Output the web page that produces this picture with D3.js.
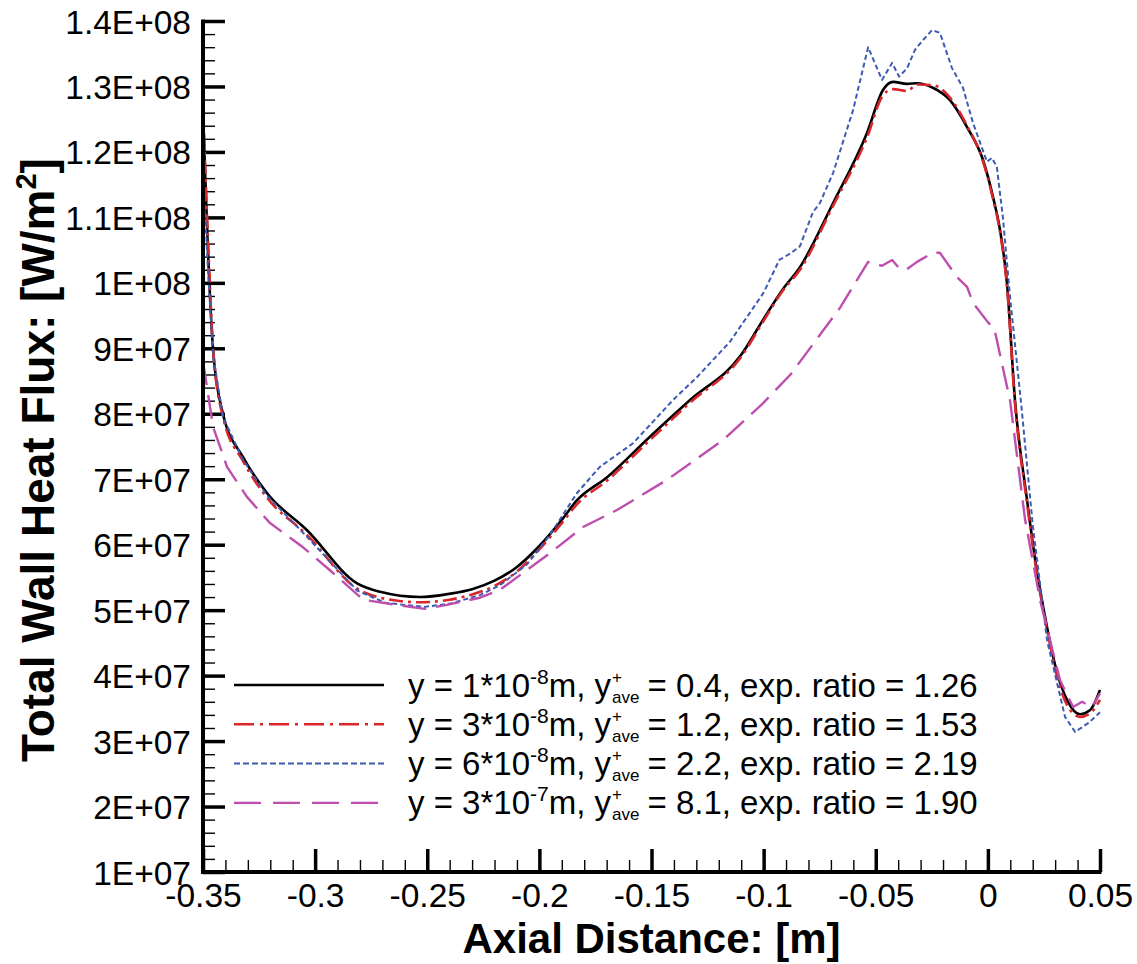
<!DOCTYPE html>
<html>
<head>
<meta charset="utf-8">
<script src="https://cdn.jsdelivr.net/npm/d3@7"></script>
<style>
  html, body { margin: 0; padding: 0; background: #fff; }
  svg { display: block; }
  text { font-family: "Liberation Sans", Arial, sans-serif; fill: #000; }
</style>
</head>
<body>
<div id="chart"></div>
<script>
// Axis ticks
const xTicks = [-0.35, -0.3, -0.25, -0.2, -0.15, -0.1, -0.05, 0, 0.05];
const xTickLabels = ["-0.35", "-0.3", "-0.25", "-0.2", "-0.15", "-0.1", "-0.05", "0", "0.05"];
const yTicks = [1e7, 2e7, 3e7, 4e7, 5e7, 6e7, 7e7, 8e7, 9e7, 1e8, 1.1e8, 1.2e8, 1.3e8, 1.4e8];
const yTickLabels = ["1E+07", "2E+07", "3E+07", "4E+07", "5E+07", "6E+07", "7E+07", "8E+07", "9E+07",
                     "1E+08", "1.1E+08", "1.2E+08", "1.3E+08", "1.4E+08"];

// Series: [axial distance (m), total wall heat flux (W/m2)]
const flux1e8 = [
  [-0.35, 1.26e8], [-0.3478, 1.05e8], [-0.3455, 8.97e7], [-0.3411, 8.0e7], [-0.3322, 7.34e7],
  [-0.3215, 6.79e7], [-0.3036, 6.22e7], [-0.2813, 5.41e7], [-0.271, 5.28e7], [-0.2532, 5.2e7],
  [-0.24, 5.25e7], [-0.23, 5.32e7], [-0.22, 5.45e7], [-0.21, 5.66e7], [-0.2, 5.98e7],
  [-0.19, 6.38e7], [-0.1832, 6.68e7], [-0.1698, 7.03e7], [-0.1507, 7.65e7], [-0.1328, 8.21e7],
  [-0.11, 8.9e7], [-0.1, 9.45e7], [-0.0915, 9.9e7], [-0.0838, 1.024e8], [-0.069, 1.122e8],
  [-0.0539, 1.229e8], [-0.0467, 1.295e8], [-0.0423, 1.307e8], [-0.036, 1.304e8], [-0.0316, 1.305e8],
  [-0.0245, 1.298e8], [-0.0169, 1.279e8], [-0.0093, 1.238e8], [-0.0022, 1.188e8], [0.0023, 1.131e8],
  [0.0054, 1.081e8], [0.0085, 1.0e8], [0.0121, 8.2e7], [0.0174, 6.7e7], [0.0211, 5.77e7],
  [0.0264, 4.74e7], [0.0309, 4.04e7], [0.0353, 3.63e7], [0.0411, 3.41e7], [0.0455, 3.47e7],
  [0.05, 3.78e7]
];
const flux3e8 = [
  [-0.35, 1.27e8], [-0.3478, 1.07e8], [-0.3455, 9.0e7], [-0.3411, 7.95e7], [-0.3322, 7.28e7],
  [-0.3215, 6.72e7], [-0.3036, 6.15e7], [-0.2813, 5.33e7], [-0.271, 5.19e7], [-0.2532, 5.12e7],
  [-0.24, 5.16e7], [-0.23, 5.24e7], [-0.22, 5.37e7], [-0.21, 5.59e7], [-0.2, 5.93e7],
  [-0.19, 6.33e7], [-0.1832, 6.62e7], [-0.1698, 6.98e7], [-0.1507, 7.6e7], [-0.1328, 8.17e7],
  [-0.11, 8.87e7], [-0.1, 9.42e7], [-0.0915, 9.88e7], [-0.0838, 1.02e8], [-0.069, 1.118e8],
  [-0.0539, 1.222e8], [-0.0467, 1.287e8], [-0.0423, 1.296e8], [-0.036, 1.293e8], [-0.0316, 1.303e8],
  [-0.0245, 1.302e8], [-0.0169, 1.283e8], [-0.0093, 1.24e8], [-0.0022, 1.186e8], [0.0023, 1.128e8],
  [0.0054, 1.078e8], [0.0085, 9.95e7], [0.0121, 8.15e7], [0.0174, 6.65e7], [0.0211, 5.72e7],
  [0.0264, 4.7e7], [0.0309, 3.98e7], [0.0353, 3.55e7], [0.0411, 3.37e7], [0.0455, 3.42e7],
  [0.05, 3.63e7]
];
const flux6e8 = [
  [-0.35, 1.18e8], [-0.3478, 1.02e8], [-0.3455, 8.9e7], [-0.3411, 7.95e7], [-0.3322, 7.3e7],
  [-0.3215, 6.75e7], [-0.3036, 6.12e7], [-0.2813, 5.3e7], [-0.2685, 5.11e7], [-0.251, 5.05e7],
  [-0.2398, 5.1e7], [-0.2265, 5.23e7], [-0.2176, 5.38e7], [-0.2055, 5.7e7], [-0.1953, 6.15e7],
  [-0.1832, 6.79e7], [-0.173, 7.19e7], [-0.1582, 7.55e7], [-0.1404, 8.21e7], [-0.13, 8.55e7],
  [-0.115, 9.1e7], [-0.1, 9.85e7], [-0.093, 1.035e8], [-0.088, 1.045e8], [-0.0838, 1.056e8],
  [-0.078, 1.108e8], [-0.0749, 1.122e8], [-0.069, 1.168e8], [-0.0601, 1.264e8], [-0.0534, 1.36e8],
  [-0.0472, 1.31e8], [-0.0427, 1.336e8], [-0.0396, 1.315e8], [-0.036, 1.328e8], [-0.0325, 1.356e8],
  [-0.0289, 1.371e8], [-0.0249, 1.386e8], [-0.0214, 1.382e8], [-0.016, 1.328e8], [-0.0111, 1.298e8],
  [-0.0066, 1.244e8], [-0.0004, 1.185e8], [0.0018, 1.191e8], [0.004, 1.177e8], [0.0067, 1.10e8],
  [0.0099, 9.78e7], [0.015, 8.1e7], [0.02, 6.3e7], [0.0264, 4.54e7], [0.0344, 3.37e7],
  [0.0389, 3.14e7], [0.045, 3.28e7], [0.05, 3.44e7]
];
const flux3e7 = [
  [-0.35, 8.8e7], [-0.3455, 7.8e7], [-0.3393, 7.19e7], [-0.3304, 6.73e7], [-0.3201, 6.33e7],
  [-0.3054, 5.96e7], [-0.2934, 5.61e7], [-0.2786, 5.16e7], [-0.2635, 5.08e7], [-0.251, 5.02e7],
  [-0.2412, 5.08e7], [-0.2265, 5.19e7], [-0.2176, 5.31e7], [-0.1953, 5.87e7], [-0.1805, 6.27e7],
  [-0.1654, 6.53e7], [-0.1431, 6.99e7], [-0.1181, 7.6e7], [-0.1003, 8.16e7], [-0.088, 8.6e7],
  [-0.0659, 9.62e7], [-0.0534, 1.032e8], [-0.0472, 1.026e8], [-0.0427, 1.035e8], [-0.0392, 1.021e8],
  [-0.036, 1.021e8], [-0.0316, 1.032e8], [-0.0245, 1.046e8], [-0.0214, 1.046e8], [-0.0138, 1.009e8],
  [-0.0093, 9.94e7], [-0.0066, 9.69e7], [0.0, 9.4e7], [0.003, 9.28e7], [0.0099, 8.2e7],
  [0.0166, 6.38e7], [0.0233, 5.15e7], [0.0277, 4.54e7], [0.0322, 3.93e7], [0.038, 3.52e7],
  [0.042, 3.6e7], [0.0464, 3.52e7], [0.05, 3.73e7]
];

// Legend label pieces: y value, exponent, y+ave, expansion ratio
const legendY = ["1", "3", "6", "3"];
const legendExp = ["-8", "-8", "-8", "-7"];
const legendYPlus = ["0.4", "1.2", "2.2", "8.1"];
const legendRatio = ["1.26", "1.53", "2.19", "1.90"];

const series = [
  { data: flux1e8, color: "#000000", width: 2.6, dash: null, legendDash: null, curve: d3.curveMonotoneX },
  { data: flux3e8, color: "#d8262b", width: 2.6, dash: "14,5,3,5", legendDash: "20,6,3,6", curve: d3.curveMonotoneX },
  { data: flux6e8, color: "#3d5bb4", width: 2, dash: "5,3", legendDash: "6,3", curve: d3.curveLinear },
  { data: flux3e7, color: "#bf4fae", width: 2.4, dash: "24,10", legendDash: "27,12", curve: d3.curveLinear }
];

const width = 1137, height = 964;
const margin = { top: 21, right: 37, bottom: 92, left: 203 };
const innerW = width - margin.left - margin.right;
const innerH = height - margin.top - margin.bottom;
const tickFont = "33.5px";

const svg = d3.select("#chart").append("svg")
  .attr("width", width)
  .attr("height", height);

const g = svg.append("g").attr("transform", `translate(${margin.left},${margin.top})`);

const x = d3.scaleLinear().domain([-0.35, 0.05]).range([0, innerW]);
const y = d3.scaleLinear().domain([1e7, 1.4e8]).range([innerH, 0]);

// Minor ticks (5 subdivisions)
const xMinor = d3.range(-0.35, 0.05 + 1e-9, 0.01).filter(v => !xTicks.some(t => Math.abs(t - v) < 1e-9));
const yMinor = d3.range(1e7, 1.4e8 + 1, 2e6).filter(v => !yTicks.some(t => Math.abs(t - v) < 1));

g.append("g")
  .attr("transform", `translate(0,${innerH})`)
  .call(d3.axisBottom(x).tickValues(xMinor).tickSize(-12).tickFormat(""))
  .call(a => a.select(".domain").remove())
  .selectAll("line").attr("stroke", "#000").attr("stroke-width", 1.4);

g.append("g")
  .call(d3.axisLeft(y).tickValues(yMinor).tickSize(-12).tickFormat(""))
  .call(a => a.select(".domain").remove())
  .selectAll("line").attr("stroke", "#000").attr("stroke-width", 1.4);

// Major ticks + labels
const xAxis = g.append("g")
  .attr("transform", `translate(0,${innerH})`)
  .call(d3.axisBottom(x).tickValues(xTicks).tickSizeInner(-23).tickSizeOuter(0)
    .tickPadding(0).tickFormat((d, i) => xTickLabels[i]));
xAxis.selectAll("line").attr("stroke", "#000").attr("stroke-width", 3.5);
xAxis.selectAll("text")
  .attr("y", 35).attr("dy", 0)
  .style("font-size", tickFont)
  .style("font-family", '"Liberation Sans", Arial, sans-serif')
  .attr("fill", "#000");
xAxis.select(".domain").remove();

const yAxis = g.append("g")
  .call(d3.axisLeft(y).tickValues(yTicks).tickSizeInner(-22).tickSizeOuter(0)
    .tickPadding(0).tickFormat((d, i) => yTickLabels[i]));
yAxis.selectAll("line").attr("stroke", "#000").attr("stroke-width", 3.5);
yAxis.selectAll("text")
  .attr("x", -12).attr("dy", "0.36em")
  .style("font-size", tickFont)
  .style("font-family", '"Liberation Sans", Arial, sans-serif')
  .attr("fill", "#000");
yAxis.select(".domain").remove();

// Curves
series.forEach(s => {
  const line = d3.line()
    .curve(s.curve)
    .x(d => x(d[0]))
    .y(d => y(d[1]));
  g.append("path")
    .datum(s.data)
    .attr("fill", "none")
    .attr("stroke", s.color)
    .attr("stroke-width", s.width)
    .attr("stroke-linejoin", "round")
    .attr("stroke-dasharray", s.dash)
    .attr("d", line);
});

// Axis lines (left and bottom)
g.append("line")
  .attr("x1", 0).attr("x2", 0).attr("y1", -1.5).attr("y2", innerH + 2)
  .attr("stroke", "#000").attr("stroke-width", 4);
g.append("line")
  .attr("x1", -2).attr("x2", innerW + 1.5).attr("y1", innerH).attr("y2", innerH)
  .attr("stroke", "#000").attr("stroke-width", 4);

// Legend
const legend = svg.append("g");
series.forEach((s, i) => {
  const cy = 685 + i * 39.3;
  const base = cy + 11.5;
  legend.append("line")
    .attr("x1", 234).attr("x2", 384)
    .attr("y1", cy).attr("y2", cy)
    .attr("stroke", s.color)
    .attr("stroke-width", s.width)
    .attr("stroke-dasharray", s.legendDash);

  // main part up to "y", then stacked +/ave, then the rest
  const head = legend.append("text")
    .attr("x", 408).attr("y", base)
    .style("font-size", "33px");
  head.append("tspan").text(`y = ${legendY[i]}*10`);
  head.append("tspan").attr("dy", -13).style("font-size", "21px").text(legendExp[i]);
  head.append("tspan").attr("dy", 13).text("m, y");
  const xs = 408 + head.node().getComputedTextLength() + 1;

  legend.append("text")
    .attr("x", xs).attr("y", base - 14)
    .style("font-size", "17px")
    .text("+");
  const sub = legend.append("text")
    .attr("x", xs).attr("y", base + 6)
    .style("font-size", "17px")
    .text("ave");
  const xr = xs + sub.node().getComputedTextLength() + 8;

  legend.append("text")
    .attr("x", xr).attr("y", base)
    .style("font-size", "33px")
    .text(`= ${legendYPlus[i]}, exp. ratio = ${legendRatio[i]}`);
});

// Axis titles
svg.append("text")
  .attr("x", margin.left + innerW / 2)
  .attr("y", 953)
  .attr("text-anchor", "middle")
  .style("font-size", "42px")
  .style("font-weight", "bold")
  .text("Axial Distance: [m]");

const yTitle = svg.append("text")
  .attr("transform", "translate(54,460) rotate(-90)")
  .attr("text-anchor", "middle")
  .style("font-size", "46px")
  .style("font-weight", "bold");
yTitle.append("tspan").text("Total Wall Heat Flux: [W/m");
yTitle.append("tspan").attr("dy", -18).style("font-size", "29px").text("2");
yTitle.append("tspan").attr("dy", 18).text("]");
</script>
</body>
</html>
